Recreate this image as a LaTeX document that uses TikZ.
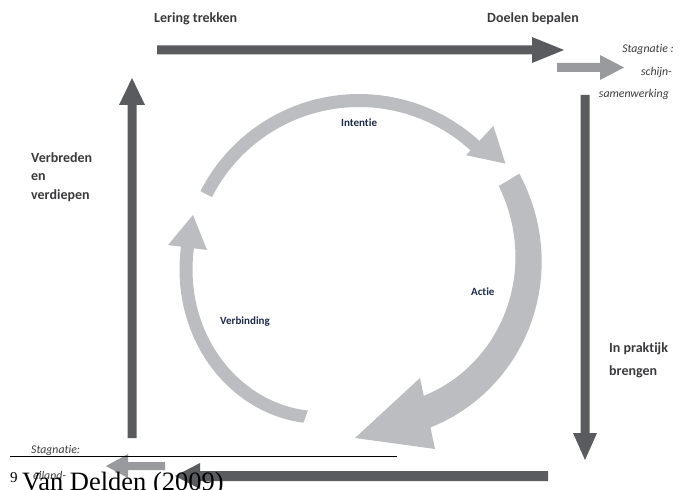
\documentclass[tikz,border=0pt]{standalone}
\usepackage{fontspec}
\setmainfont{Carlito}[Ligatures={NoCommon,NoRare,NoContextual}]
\newfontfamily\fnserif{Liberation Serif}
\definecolor{dk}{HTML}{5A5B5E}
\definecolor{lt}{HTML}{BCBDC0}
\definecolor{md}{HTML}{989A9D}
\definecolor{txt}{HTML}{3A3A3C}
\definecolor{navy}{HTML}{1C2A4C}
\begin{document}
\begin{tikzpicture}[x=1pt,y=-1pt,
  lbl/.style={font=\bfseries\fontsize{14}{18.5}\selectfont, text=txt, inner sep=0pt, anchor=west, align=left},
  stag/.style={font=\itshape\fontsize{11.8}{13}\selectfont, text=txt, inner sep=0pt},
  cyc/.style={font=\bfseries\fontsize{11}{12}\selectfont, text=navy, inner sep=0pt, anchor=west},
  darrow/.style={fill=dk},
  garrow/.style={fill=md},
  circ/.style={fill=lt}]
\useasboundingbox (0,0) rectangle (684,489);
% ---------------- outer square of arrows ----------------
% top
\fill[darrow] (157,45.5) -- (532,45.5) -- (532,37) -- (564,50) -- (532,63) -- (532,54.5) -- (157,54.5) -- cycle;
% small grey right
\fill[garrow] (557,63) -- (600,63) -- (600,55) -- (624,67.5) -- (600,80) -- (600,72) -- (557,72) -- cycle;
% right vertical
\fill[darrow] (580.5,95) -- (589.5,95) -- (589.5,433) -- (597,433) -- (585,460) -- (573,433) -- (580.5,433) -- cycle;
% bottom
\fill[darrow] (548,471) -- (200,471) -- (200,463) -- (175,476) -- (200,489) -- (200,481) -- (548,481) -- cycle;
% small grey bottom left
\fill[garrow] (165,462) -- (128,462) -- (128,454) -- (106,466) -- (128,478) -- (128,470) -- (165,470) -- cycle;
% left vertical
\fill[darrow] (127.5,438) -- (127.5,105) -- (119,105) -- (132,78) -- (145,105) -- (136.5,105) -- (136.5,438) -- cycle;
% ---------------- cycle ----------------
% arc 1 (Intentie)
\fill[circ] plot[domain=153:46,samples=60] ({359+178*cos(\x)},{272-178*sin(\x)})
  -- plot[domain=46:153,samples=60] ({359+165*cos(\x)},{272-165*sin(\x)}) -- cycle;
\fill[circ] ({359+157*cos(47)},{270-157*sin(47)}) -- ({359+197*cos(47)},{270-197*sin(47)})
  -- ({359+181*cos(36)},{270-181*sin(36)}) -- cycle;
% arc 2 (Actie)
\fill[circ] plot[domain=31:-66,samples=80] ({359+(187-14*(31-\x)/96)*cos(\x)},{270-(187-14*(31-\x)/96)*sin(\x)})
  -- plot[domain=-66:31,samples=80] ({359+(163-22*(31-\x)/96)*cos(\x)},{270-(163-22*(31-\x)/96)*sin(\x)}) -- cycle;
\fill[circ] (420,378) -- (355,438) -- (435,449) -- cycle;
% arc 3 (Verbinding)
\fill[circ] plot[domain=250:171,samples=80] ({359+(179.5-17*((\x-171)/79)^3)*cos(\x)},{270-(179.5-17*((\x-171)/79)^3)*sin(\x)})
  -- plot[domain=171:250,samples=80] ({359+(166.5-17*((\x-171)/79)^3)*cos(\x)},{270-(166.5-17*((\x-171)/79)^3)*sin(\x)}) -- cycle;
\fill[circ] (168,245) -- (193,215) -- (207,250) -- cycle;
% ---------------- labels ----------------
\node[cyc] (intentie) at (341,123) {Intentie};
\node[cyc] (actie) at (471,292) {Actie};
\node[cyc] (verbinding) at (220,322) {Verbinding};
\node[lbl] (lering) at (154,19) {Lering trekken};
\node[lbl] (doelen) at (487,19) {Doelen bepalen};
\node[lbl] (verbreden) at (31,177) {Verbreden\\en\\verdiepen};
\node[lbl, font=\bfseries\fontsize{14}{23}\selectfont] (praktijk) at (609,360.5) {In praktijk\\brengen};
\node[stag, anchor=east] (stag1) at (674,49) {Stagnatie :};
\node[stag, anchor=east] (stag2) at (672,72) {schijn-};
\node[stag, anchor=east] (stag3) at (669,94) {samenwerking};
\node[stag, anchor=west] (stag4) at (31,450) {Stagnatie:};
\node[stag, anchor=west] (stag5) at (33,475) {eiland-};
% ---------------- footnote ----------------
\draw[line width=1.6pt] (10,456.5) -- (397,456.5);
\node[anchor=base west, inner sep=0pt] (foot) at (10,490.5) {\fnserif\fontsize{26.5}{26.5}\selectfont\raisebox{8pt}{\fontsize{15}{15}\selectfont 9}\,Van Delden (2009)};
\end{tikzpicture}
\end{document}
